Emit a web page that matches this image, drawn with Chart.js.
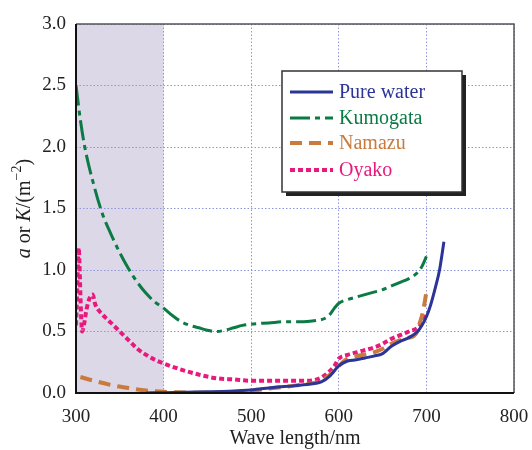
<!DOCTYPE html>
<html><head><meta charset="utf-8">
<script src="https://cdn.jsdelivr.net/npm/chart.js@4/dist/chart.umd.min.js"></script>
<style>html,body{margin:0;padding:0;background:#fff;}canvas{display:block;}</style>
</head><body>
<canvas id="c" width="532" height="450"></canvas>
<script>
// ---- data ----
const xTicks = [300, 400, 500, 600, 700, 800];
const yTicks = [0.0, 0.5, 1.0, 1.5, 2.0, 2.5, 3.0];

const pureWaterWl = [380, 400, 425, 450, 475, 500, 525, 550, 570, 580, 590, 600, 610, 620, 630, 640, 650, 660, 670, 680, 690, 695, 700, 705, 710, 715, 720];
const pureWaterVal = [0.0, 0.003, 0.006, 0.01, 0.015, 0.025, 0.045, 0.06, 0.075, 0.09, 0.14, 0.22, 0.26, 0.27, 0.285, 0.30, 0.32, 0.38, 0.42, 0.45, 0.50, 0.55, 0.62, 0.72, 0.85, 1.0, 1.23];

const kumogataWl = [300, 305, 310, 320, 330, 340, 350, 360, 370, 380, 390, 400, 410, 420, 430, 440, 450, 460, 470, 480, 490, 500, 520, 540, 560, 575, 585, 590, 595, 600, 610, 620, 640, 650, 660, 670, 680, 690, 695, 700];
const kumogataVal = [2.5, 2.22, 2.0, 1.7, 1.46, 1.29, 1.14, 1.01, 0.9, 0.81, 0.74, 0.69, 0.63, 0.58, 0.55, 0.53, 0.51, 0.50, 0.51, 0.53, 0.55, 0.56, 0.57, 0.58, 0.58, 0.59, 0.61, 0.64, 0.69, 0.73, 0.76, 0.78, 0.82, 0.84, 0.87, 0.90, 0.93, 0.98, 1.03, 1.11];

const namazuWl = [305, 320, 340, 360, 380, 400, 425, 450, 475, 500, 525, 550, 570, 580, 590, 600, 610, 620, 640, 650, 660, 670, 680, 688, 692, 696, 700];
const namazuVal = [0.13, 0.10, 0.065, 0.04, 0.02, 0.01, 0.004, 0.002, 0.008, 0.02, 0.04, 0.06, 0.08, 0.10, 0.15, 0.22, 0.28, 0.30, 0.33, 0.36, 0.40, 0.43, 0.45, 0.48, 0.56, 0.66, 0.82];

const oyakoWl = [300, 301, 302, 303, 304, 305, 306, 307, 309, 312, 316, 319, 322, 330, 340, 350, 360, 370, 380, 390, 400, 420, 440, 460, 480, 500, 520, 540, 560, 575, 585, 595, 600, 610, 620, 640, 650, 660, 670, 680, 690, 695, 700];
const oyakoVal = [0.55, 0.75, 1.0, 1.18, 1.05, 0.8, 0.6, 0.5, 0.55, 0.68, 0.78, 0.80, 0.72, 0.64, 0.57, 0.50, 0.43, 0.36, 0.31, 0.27, 0.24, 0.19, 0.15, 0.12, 0.11, 0.10, 0.10, 0.10, 0.10, 0.11, 0.15, 0.22, 0.28, 0.31, 0.33, 0.37, 0.40, 0.44, 0.47, 0.50, 0.53, 0.57, 0.64];

const seriesNames = ['Pure water', 'Kumogata', 'Namazu', 'Oyako'];
const seriesColors = ['#2b3497', '#0b7a45', '#c97a3c', '#e8197d'];
const shadeRange = [300, 400];

// ---- build ----
function pts(xs, ys) { return xs.map((x, i) => ({x: x, y: ys[i]})); }
const SERIF = '"Liberation Serif", "DejaVu Serif", serif';

const styles = [
  {borderWidth: 3, borderDash: []},
  {borderWidth: 3, borderDash: [20, 5, 5, 5]},
  {borderWidth: 4, borderDash: [12, 7]},
  {borderWidth: 4, borderDash: [5, 3]}
];
const allData = [pts(pureWaterWl, pureWaterVal), pts(kumogataWl, kumogataVal), pts(namazuWl, namazuVal), pts(oyakoWl, oyakoVal)];

const datasets = seriesNames.map((n, i) => ({
  label: n,
  data: allData[i],
  borderColor: seriesColors[i],
  backgroundColor: seriesColors[i],
  borderWidth: styles[i].borderWidth,
  borderDash: styles[i].borderDash,
  pointRadius: 0,
  cubicInterpolationMode: 'monotone',
  fill: false
}));

const decor = {
  id: 'decor',
  beforeDraw(chart) {
    const {ctx, chartArea: a, scales: {x, y}} = chart;
    ctx.save();
    ctx.fillStyle = '#dcd8e7';
    const x0 = x.getPixelForValue(shadeRange[0]), x1 = x.getPixelForValue(shadeRange[1]);
    ctx.fillRect(x0, a.top, x1 - x0, a.bottom - a.top);
    ctx.restore();
  },
  afterDatasetsDraw(chart) {
    const {ctx, chartArea: a} = chart;
    ctx.save();
    ctx.setLineDash([]);
    ctx.strokeStyle = '#555';
    ctx.lineWidth = 1.5;
    ctx.beginPath();
    ctx.moveTo(a.left, a.top); ctx.lineTo(a.right, a.top); ctx.lineTo(a.right, a.bottom);
    ctx.stroke();
    ctx.strokeStyle = '#111';
    ctx.lineWidth = 2;
    ctx.beginPath();
    ctx.moveTo(a.left, a.top); ctx.lineTo(a.left, a.bottom); ctx.lineTo(a.right, a.bottom);
    ctx.stroke();
    ctx.restore();
  },
  afterDraw(chart) {
    const {ctx, chartArea: a} = chart;
    ctx.save();
    // x title
    ctx.fillStyle = '#222';
    ctx.font = '20px ' + SERIF;
    ctx.textAlign = 'center';
    ctx.textBaseline = 'middle';
    ctx.fillText('Wave length/nm', (a.left + a.right) / 2, 439);
    // y title
    const segs = [
      {t: 'a', f: 'italic 20px ' + SERIF, dy: 0},
      {t: ' or ', f: '20px ' + SERIF, dy: 0},
      {t: 'K', f: 'italic 20px ' + SERIF, dy: 0},
      {t: '/(m', f: '20px ' + SERIF, dy: 0},
      {t: '\u22122', f: '14px ' + SERIF, dy: -8},
      {t: ')', f: '20px ' + SERIF, dy: 0}
    ];
    let total = 0;
    segs.forEach(s => { ctx.font = s.f; s.w = ctx.measureText(s.t).width; total += s.w; });
    ctx.translate(25, (a.top + a.bottom) / 2);
    ctx.rotate(-Math.PI / 2);
    ctx.textAlign = 'left';
    let cx = -total / 2;
    segs.forEach(s => { ctx.font = s.f; ctx.fillText(s.t, cx, s.dy); cx += s.w; });
    ctx.restore();

    // legend
    ctx.save();
    const L = 282, T = 71, R = 462, B = 192;
    ctx.fillStyle = '#222';
    ctx.fillRect(L + 4, T + 4, R - L, B - T);
    ctx.fillStyle = '#fff';
    ctx.fillRect(L, T, R - L, B - T);
    ctx.strokeStyle = '#333';
    ctx.lineWidth = 1.5;
    ctx.strokeRect(L, T, R - L, B - T);
    const rows = [92, 118, 143, 170];
    chart.data.datasets.forEach((ds, i) => {
      const yy = rows[i];
      ctx.strokeStyle = ds.borderColor;
      ctx.lineWidth = ds.borderWidth;
      ctx.setLineDash(ds.borderDash);
      ctx.beginPath();
      ctx.moveTo(290, yy); ctx.lineTo(333, yy);
      ctx.stroke();
      ctx.setLineDash([]);
      ctx.fillStyle = ds.borderColor;
      ctx.font = '20px ' + SERIF;
      ctx.textAlign = 'left';
      ctx.textBaseline = 'middle';
      ctx.fillText(ds.label, 339, yy + 1);
    });
    ctx.restore();
  }
};

new Chart(document.getElementById('c'), {
  type: 'line',
  data: {datasets: datasets},
  options: {
    responsive: false,
    animation: false,
    layout: {padding: {top: 24, right: 18, left: 0, bottom: 0}},
    plugins: {legend: {display: false}, tooltip: {enabled: false}},
    scales: {
      x: {
        type: 'linear', min: 300, max: 800,
        afterFit(s) { s.height = 57; s.paddingRight = 0; s.paddingLeft = 0; },
        afterBuildTicks(s) { s.ticks = xTicks.map(v => ({value: v})); },
        grid: {color: '#8f95dd', lineWidth: 1, drawTicks: false},
        border: {display: false, dash: [1.5, 2]},
        ticks: {color: '#222', font: {family: SERIF, size: 19}, padding: 13, maxRotation: 0}
      },
      y: {
        type: 'linear', min: 0, max: 3,
        afterFit(s) { s.width = 76; s.paddingTop = 0; s.paddingBottom = 0; },
        afterBuildTicks(s) { s.ticks = yTicks.map(v => ({value: v})); },
        grid: {color: '#8f95dd', lineWidth: 1, drawTicks: false},
        border: {display: false, dash: [1.5, 2]},
        ticks: {color: '#222', font: {family: SERIF, size: 19}, padding: 10, callback: v => v.toFixed(1)}
      }
    }
  },
  plugins: [decor]
});
</script>
</body></html>
